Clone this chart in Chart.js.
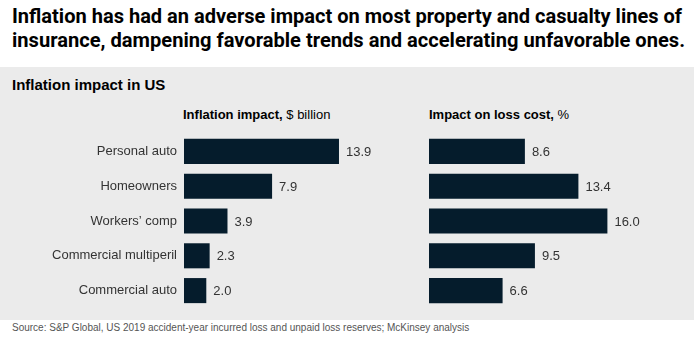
<!DOCTYPE html>
<html><head><meta charset="utf-8">
<script src="https://cdn.jsdelivr.net/npm/chart.js@4.4.1/dist/chart.umd.min.js"></script>
<style>
html,body{margin:0;padding:0;background:#fff;width:694px;height:343px;overflow:hidden;font-family:"Liberation Sans",Arial,sans-serif;}
.tl{position:absolute;left:12px;font-family:Roboto,sans-serif;font-weight:700;font-size:20px;line-height:24px;color:#000;white-space:nowrap;transform-origin:0 0;}
#panel{position:absolute;left:0;top:67px;width:694px;height:253px;background:#ebebeb;}
#sub{position:absolute;left:12px;top:76px;font-weight:bold;font-size:15px;color:#000;white-space:nowrap;}
.hdr{position:absolute;top:107px;font-size:13px;color:#000;white-space:nowrap;}
canvas{position:absolute;}
#src{position:absolute;left:12px;top:322px;font-size:10px;color:#555;white-space:nowrap;}
</style></head>
<body>
<div class="tl" id="t1" style="top:4px">Inflation has had an adverse impact on most property and casualty lines of</div>
<div class="tl" id="t2" style="top:28px">insurance, dampening favorable trends and accelerating unfavorable ones.</div>
<div id="panel"></div>
<div id="sub">Inflation impact in US</div>
<div class="hdr" style="left:183px"><b>Inflation impact,</b> $ billion</div>
<div class="hdr" style="left:429px"><b>Impact on loss cost,</b> %</div>
<canvas id="c1" width="407" height="174" style="left:0;top:134px;width:407px;height:174px"></canvas>
<canvas id="c2" width="223" height="174" style="left:429px;top:134px;width:223px;height:174px"></canvas>
<div id="src">Source: S&amp;P Global, US 2019 accident-year incurred loss and unpaid loss reserves; McKinsey analysis</div>
<script>
const categories = ["Personal auto", "Homeowners", "Workers\u2019 comp", "Commercial multiperil", "Commercial auto"];
const inflationImpact = [13.9, 7.9, 3.9, 2.3, 2.0];
const lossCostImpact = [8.6, 13.4, 16.0, 9.5, 6.6];

function fitTitle(id, target){
  const el=document.getElementById(id);
  el.style.transform='none';
  const w=el.getBoundingClientRect().width;
  el.style.transform='scaleX('+(target/w)+')';
}
fitTitle('t1',670); fitTitle('t2',673);

const valueLabels={id:'vl',afterDatasetsDraw(chart){
  const ctx=chart.ctx, meta=chart.getDatasetMeta(0), d=chart.data.datasets[0].data;
  ctx.save();
  ctx.font='13px "Liberation Sans", Arial, sans-serif';
  ctx.fillStyle='#333';
  ctx.textBaseline='middle';
  ctx.textAlign='left';
  meta.data.forEach((b,i)=>ctx.fillText(d[i].toFixed(1), b.x+7, b.y+1));
  ctx.restore();
}};

function makeChart(id, values, showLabels){
  return new Chart(document.getElementById(id),{
    type:'bar',
    data:{labels:categories,datasets:[{data:values,backgroundColor:'#051c2c',borderWidth:0,barPercentage:0.72,categoryPercentage:1}]},
    options:{
      indexAxis:'y',responsive:false,animation:false,
      layout:{padding:0},
      plugins:{legend:{display:false},tooltip:{enabled:false}},
      scales:{
        x:{display:false,min:0,max:20},
        y:{display:showLabels,
           ticks:{color:'#333',font:{size:13,family:'"Liberation Sans", Arial, sans-serif'},padding:7},
           grid:{display:false,drawTicks:false},border:{display:false},
           afterFit(s){ if(showLabels){ s.width=184; s.paddingTop=0; s.paddingBottom=0; } }}
      }
    },
    plugins:[valueLabels]
  });
}
makeChart('c1', inflationImpact, true);
makeChart('c2', lossCostImpact, false);
</script>
</body></html>
